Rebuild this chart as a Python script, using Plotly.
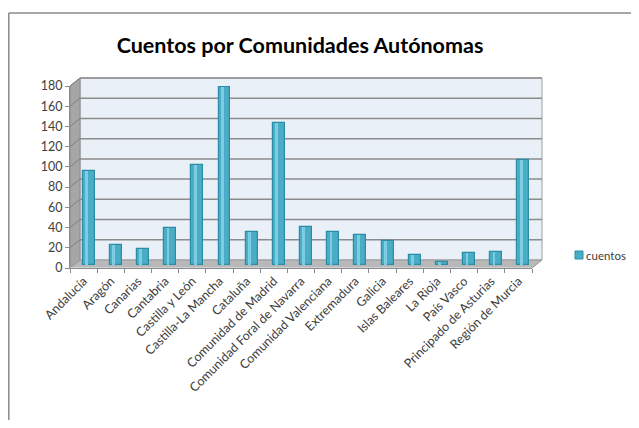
import plotly.graph_objects as go

categories = ["Andalucía", "Aragón", "Canarias", "Cantabria", "Castilla y León",
              "Castilla-La Mancha", "Cataluña", "Comunidad de Madrid",
              "Comunidad Foral de Navarra", "Comunidad Valenciana", "Extremadura",
              "Galicia", "Islas Baleares", "La Rioja", "País Vasco",
              "Principado de Asturias", "Región de Murcia"]
cuentos = [93, 20, 16, 37, 99, 176, 33, 140, 38, 33, 30, 24, 10, 3, 12, 13, 104]
y_ticks = [0, 20, 40, 60, 80, 100, 120, 140, 160, 180]
title_text = "Cuentos por Comunidades Autónomas"
series_name = "cuentos"

PAGE_OFF = 8  # browser body margin
PW, PH = 639, 428
W, H = PW - PAGE_OFF, PH - 2 * PAGE_OFF
# plot area in page pixels
L, R, T, B = 70, 532, 86, 268
DX, DY = 10, -8  # 3D depth offset (pixels)
FONT = "Lato"
BAR = "#4BACC6"
BAR_EDGE = "#2B8CA6"

def px(xp):
    return (xp - L) / (R - L)

def py(yp):
    return (B - yp) / (B - T)

def vy(v):  # value -> pixel on front axis
    return B - v * (B - T) / 180.0

shapes = []
# back wall
shapes.append(dict(type="rect", xref="paper", yref="paper", layer="below",
                   x0=px(L + DX), x1=px(R + DX), y0=py(B + DY), y1=py(T + DY),
                   fillcolor="#E9F0F7", line=dict(color="#A0A0A0", width=1)))
for v in y_ticks[1:]:
    yb = vy(v) + DY
    shapes.append(dict(type="line", xref="paper", yref="paper", layer="below",
                       x0=px(L + DX), x1=px(R + DX), y0=py(yb), y1=py(yb),
                       line=dict(color="#8C8C8C", width=1.5)))
# side wall (left)
shapes.append(dict(type="path", xref="paper", yref="paper", layer="below",
                   path=f"M {px(L)} {py(B)} L {px(L)} {py(T)} L {px(L+DX)} {py(T+DY)} L {px(L+DX)} {py(B+DY)} Z",
                   fillcolor="#A6A6A6", line=dict(color="#8C8C8C", width=1)))
for v in y_ticks[1:]:
    shapes.append(dict(type="line", xref="paper", yref="paper", layer="below",
                       x0=px(L), x1=px(L + DX), y0=py(vy(v)), y1=py(vy(v) + DY),
                       line=dict(color="#7F7F7F", width=1)))
# floor
shapes.append(dict(type="path", xref="paper", yref="paper", layer="below",
                   path=f"M {px(L)} {py(B)} L {px(R)} {py(B)} L {px(R+DX)} {py(B+DY)} L {px(L+DX)} {py(B+DY)} Z",
                   fillcolor="#B8B8B8", line=dict(color="#9A9A9A", width=1)))
# chart border (top and left)
shapes.append(dict(type="line", xref="paper", yref="paper",
                   x0=px(8.8), x1=px(645), y0=py(13), y1=py(13),
                   line=dict(color="#8A8A8A", width=1.5)))
shapes.append(dict(type="line", xref="paper", yref="paper",
                   x0=px(8.8), x1=px(8.8), y0=py(13), y1=py(440),
                   line=dict(color="#8A8A8A", width=1.5)))
# legend swatch
shapes.append(dict(type="rect", xref="paper", yref="paper",
                   x0=px(575), x1=px(583), y0=py(259), y1=py(251),
                   fillcolor=BAR, line=dict(color=BAR_EDGE, width=1)))

annotations = [dict(text=series_name, xref="paper", yref="paper", x=px(584), y=py(255),
                    xanchor="left", yanchor="middle", showarrow=False,
                    font=dict(family=FONT, size=11.5, color="#404040"))]

n = len(categories)
shift = 0.185
fig = go.Figure()
fig.add_trace(go.Bar(x=categories, y=cuentos, name=series_name,
                     xaxis="x2", yaxis="y2", width=0.44,
                     marker=dict(color=BAR, line=dict(color=BAR_EDGE, width=1.2))))
fig.add_trace(go.Bar(x=categories, y=cuentos, xaxis="x2", yaxis="y2", width=0.1,
                     offset=-0.13, marker=dict(color="#7CCDE2", line=dict(width=0)),
                     hoverinfo="skip"))
fig.add_trace(go.Bar(x=categories, y=[0] * n, hoverinfo="skip",
                     marker=dict(color="rgba(0,0,0,0)")))

fig.update_layout(
    width=W, height=H, autosize=False, showlegend=False,
    margin=dict(l=L - PAGE_OFF, r=PW - R, t=T - PAGE_OFF, b=(PAGE_OFF + H) - B,
                pad=0, autoexpand=False),
    paper_bgcolor="white", plot_bgcolor="rgba(0,0,0,0)",
    barmode="overlay",
    shapes=shapes, annotations=annotations,
    font=dict(family=FONT, size=12, color="#404040"),
    title=dict(text=f"<b>{title_text}</b>", x=px(300), xref="paper", xanchor="center",
               y=1 - (45 - PAGE_OFF) / H, yref="container", yanchor="middle",
               font=dict(family=FONT, size=21.5, color="#000000")),
    xaxis=dict(type="category", showgrid=False, showline=True, linecolor="#8C8C8C",
               linewidth=1, ticks="outside", tickson="boundaries", ticklen=4,
               tickcolor="#8C8C8C", tickangle=-45, zeroline=False, automargin=False,
               tickfont=dict(family=FONT, size=12.5, color="#404040")),
    yaxis=dict(range=[0, 180], tickvals=y_ticks, showgrid=False, zeroline=False,
               showline=True, linecolor="#8C8C8C", ticks="outside", ticklen=4,
               tickcolor="#8C8C8C", automargin=False,
               tickfont=dict(family=FONT, size=12.5, color="#404040")),
    xaxis2=dict(type="category", overlaying="x", range=[-0.5 - shift, n - 0.5 - shift],
                visible=False),
    yaxis2=dict(overlaying="y", range=[-3, 177], visible=False),
    bargap=0,
)
fig.write_html("out.html")
